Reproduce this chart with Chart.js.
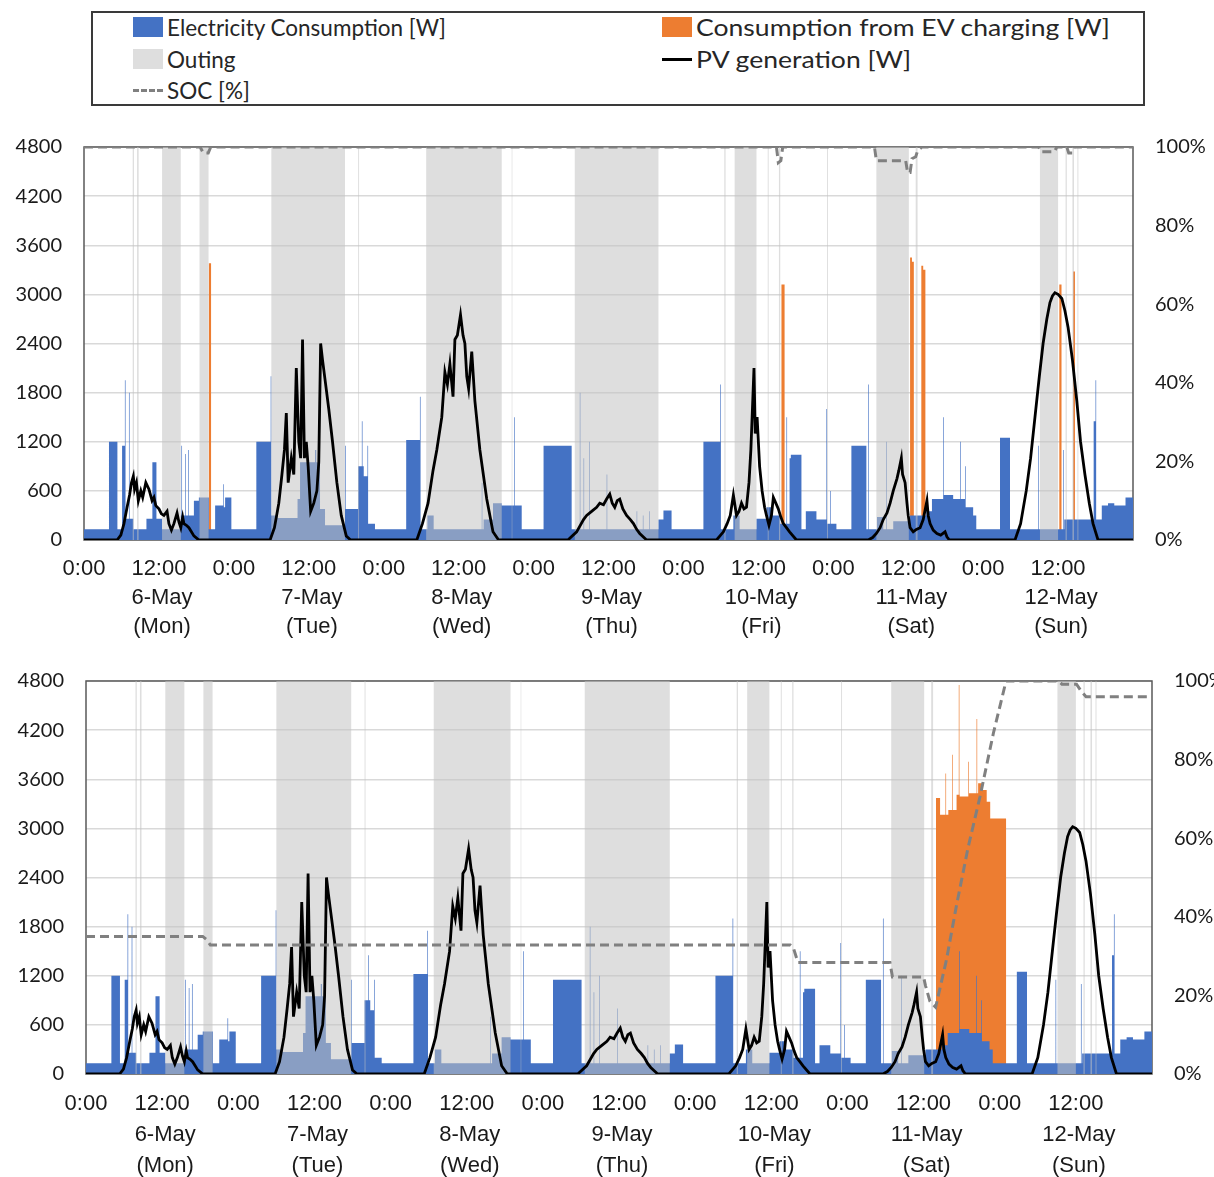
<!DOCTYPE html>
<html>
<head>
<meta charset="utf-8">
<script src="https://cdn.jsdelivr.net/npm/chart.js@4.4.0/dist/chart.umd.min.js"></script>
<style>
  html, body { margin: 0; padding: 0; background: #fff; overflow: hidden; width: 1214px; height: 1177px; }
  #legend { position: absolute; left: 91px; top: 11px; width: 1050px; height: 91px; border: 2px solid #3a3a3a;
            font-family: Lato, 'Open Sans', sans-serif; font-size: 22.5px; color: #262626; }
  .item { position: absolute; display: flex; align-items: center; white-space: nowrap; height: 28px; }
  .wide { transform: scaleX(1.18); transform-origin: left center; }
  .sw { width: 30px; height: 20px; margin-right: 4px; }
  .ln { width: 30px; height: 0; margin-right: 4px; }
  #top { position: absolute; left: 0; top: 130px; }
  #bot { position: absolute; left: 0; top: 664px; }
</style>
</head>
<body>
<div id="legend">
  <div class="item" style="left:40px;top:0px"><span class="sw" style="background:#4472c4"></span>Electricity Consumption [W]</div>
  <div class="item" style="left:569px;top:0px"><span class="sw" style="background:#ed7d31"></span><span class="wide">Consumption from EV charging [W]</span></div>
  <div class="item" style="left:40px;top:32px"><span class="sw" style="background:#dedede"></span>Outing</div>
  <div class="item" style="left:569px;top:32px"><span class="ln" style="border-top:3px solid #000"></span><span class="wide">PV generation [W]</span></div>
  <div class="item" style="left:40px;top:63px"><span class="ln" style="border-top:3px dashed #808080"></span>SOC [%]</div>
</div>
<canvas id="top" width="1214" height="515"></canvas>
<canvas id="bot" width="1250" height="513"></canvas>
<script>
// electricity consumption, step change points per day: [hour of day, W]
const consMon = [[0,130],[4.0,1200],[5.35,130],[6.1,1150],[6.55,1950],[6.65,260],[7.2,1800],[7.3,260],[7.9,130],[10.0,260],[10.95,950],[11.6,260],[12.5,130],[15.5,300],[15.6,1150],[15.7,300],[16.2,1050],[16.3,300],[16.7,1100],[16.8,300],[17.6,480],[18.4,520],[20.0,130],[21.0,420],[22.3,680],[22.4,400],[22.6,520],[23.6,130]];
const consTue = [[0,130],[3.6,1200],[5.9,2000],[6.0,300],[7.0,270],[10.2,500],[10.6,950],[13.0,1100],[13.2,950],[13.8,380],[14.6,180],[17.8,1150],[17.9,380],[19.9,900],[20.5,1450],[20.6,900],[20.8,780],[21.4,1150],[21.5,200],[22.6,130]];
const consWed = [[0,130],[3.6,1220],[5.8,1750],[5.9,130],[7.0,300],[8.0,130],[15.7,700],[15.8,130],[16.0,250],[17.5,450],[18.9,420],[20.9,1500],[21.0,420],[22.1,130]];
const consThu = [[0,130],[1.6,1150],[6.1,130],[7.4,1800],[7.5,130],[8.0,1000],[8.1,130],[8.9,1200],[9.0,130],[11.7,800],[11.8,130],[16.5,350],[16.6,130],[17.5,300],[17.6,130],[18.5,350],[18.6,130],[20.0,250],[20.8,360],[22.1,130]];
const consFri = [[0,130],[3.2,1200],[5.9,1900],[6.0,130],[8.0,300],[9.0,130],[11.7,260],[13.3,400],[14.1,300],[15.5,200],[16.5,1500],[16.6,200],[17.0,1000],[17.2,1040],[18.9,130],[19.6,350],[21.3,250],[22.9,1600],[23.0,200],[23.5,600],[23.6,200]];
const consSat = [[0,200],[0.5,130],[2.9,1150],[5.3,130],[5.6,1900],[5.7,130],[7.0,280],[8.0,130],[8.5,1200],[8.6,130],[9.6,230],[12.3,300],[14.9,350],[15.8,500],[17.6,1500],[17.7,550],[19.2,500],[20.3,1200],[20.4,500],[21.1,900],[21.2,400],[22.4,300],[22.9,130]];
const consSun = [[0,130],[2.7,1250],[4.3,130],[8.8,1150],[8.9,130],[12.8,1100],[12.9,130],[13.0,250],[17.7,1450],[18.0,1950],[18.1,250],[19.0,420],[20.0,450],[21.0,420],[22.8,520]];

// PV generation per day: [hour of day, W]
const pvMon = [[5.3,0],[5.9,60],[6.4,200],[6.9,400],[7.3,550],[7.6,700],[7.9,780],[8.1,620],[8.4,700],[8.7,480],[9.1,600],[9.4,520],[9.9,700],[10.4,620],[10.9,480],[11.2,520],[11.5,420],[12.0,380],[12.4,320],[12.8,300],[13.3,350],[13.6,200],[14.0,120],[14.4,200],[14.9,330],[15.2,220],[15.5,150],[15.8,280],[16.0,200],[16.4,180],[16.8,150],[17.2,100],[17.6,50],[18.4,0]];
const pvTue = [[5.8,0],[6.5,150],[7.2,450],[7.7,800],[8.1,1100],[8.4,1550],[8.7,700],[9.2,1000],[9.6,800],[10.0,2100],[10.4,1200],[10.7,1000],[11.0,2450],[11.3,1000],[11.6,1200],[11.9,900],[12.3,350],[12.8,450],[13.3,600],[13.6,950],[13.9,2400],[14.2,2200],[14.7,1900],[15.2,1600],[15.8,1200],[16.5,700],[17.2,300],[18.0,50],[18.7,0]];
const pvWed = [[5.3,0],[6.2,200],[7.1,450],[7.9,850],[8.5,1100],[9.3,1500],[9.8,2050],[10.2,1900],[10.6,2150],[11.1,1750],[11.4,2450],[11.8,2500],[12.3,2750],[12.7,2500],[13.0,2400],[13.3,2000],[13.6,1850],[14.1,2300],[14.6,1700],[15.4,1100],[16.5,500],[17.5,100],[18.4,0]];
const pvThu = [[5.5,0],[6.9,100],[8.0,250],[8.5,300],[9.3,350],[10.1,400],[10.6,450],[11.2,430],[11.7,500],[12.2,560],[12.6,450],[13.0,400],[13.4,480],[13.8,500],[14.3,380],[14.9,300],[15.5,250],[16.0,200],[16.5,130],[17.0,80],[18.1,0]];
const pvFri = [[5.3,0],[6.4,100],[7.0,200],[7.5,300],[8.0,550],[8.5,300],[8.9,350],[9.3,450],[9.7,380],[10.1,400],[10.5,700],[10.8,1100],[11.0,1500],[11.3,2100],[11.5,1300],[11.8,1500],[12.2,900],[12.6,600],[13.0,400],[13.3,300],[13.7,180],[14.1,300],[14.4,520],[14.8,450],[15.2,380],[15.6,280],[16.0,200],[16.5,150],[17.0,100],[18.1,0]];
const pvSat = [[5.6,0],[6.3,30],[6.9,80],[7.5,150],[8.0,250],[8.6,330],[9.1,450],[9.6,600],[10.2,750],[10.5,850],[10.9,1000],[11.1,800],[11.5,700],[11.8,450],[12.0,300],[12.3,150],[12.8,100],[13.3,130],[13.9,150],[14.4,250],[15.0,480],[15.2,300],[15.5,200],[16.0,120],[16.6,80],[17.2,60],[17.9,100],[18.2,40],[18.6,0]];
const pvSun = [[5.1,0],[6.0,200],[6.9,600],[7.6,1000],[8.3,1500],[9.0,2000],[9.6,2400],[10.2,2700],[10.7,2900],[11.1,2980],[11.5,3020],[12.0,3000],[12.6,2950],[13.1,2800],[13.6,2600],[14.3,2200],[15.0,1700],[15.6,1200],[16.3,800],[17.0,450],[17.6,200],[18.4,0]];

// outing periods [start hour, end hour] counted from 6-May 0:00
const outing = [[7.8,8.0],[8.5,8.75],[12.5,15.5],[18.5,19.95],[30.0,41.8],[43.9,44.05],[54.8,66.9],[68.5,68.6],[78.6,92.0],[102.55,102.75],[104.2,107.7],[109.5,109.65],[111.3,111.5],[119.0,119.15],[126.9,132.1],[133.2,133.5],[153.1,156.0],[157.2,157.4],[158.3,158.55],[159.1,159.25]];

// EV charging, step change points [hour, W]
const evTop = [[0,0],[20.0,3380],[20.35,0],[111.7,3120],[112.2,0],[132.3,3450],[132.6,3400],[132.9,0],[134.1,3350],[134.4,3300],[134.75,0],[156.2,3120],[156.55,0],[158.4,3280],[158.7,0]];
const evBottom = [[0,0],[133.96,3370],[134.6,3165],[135.45,3670],[135.55,3165],[135.9,3225],[136.5,3900],[136.6,3225],[137.2,3410],[137.55,4750],[137.65,3410],[137.7,3390],[139.05,3815],[139.15,3430],[140.35,4335],[140.45,3430],[140.6,3550],[141.2,3470],[141.95,3325],[142.5,3120],[145.0,0]];

// battery state of charge [hour, %]
const socTop = [[0,100],[18.6,100],[19.1,98.5],[19.9,98.5],[20.3,100],[110.9,100],[111.2,96],[111.6,96.5],[111.9,100],[126.6,100],[126.9,96.5],[131.6,96.5],[131.9,93.5],[132.3,93.5],[132.6,97],[133.2,97.5],[133.5,99],[134.2,100],[152.9,100],[153.2,98.8],[155.4,98.8],[155.8,100],[157.4,100],[157.7,98.5],[158.3,98.5],[158.6,100],[168,100]];
const socBottom = [[0,35],[18.4,35],[19.0,34.2],[19.6,32.8],[111.0,32.8],[111.5,32],[112.2,28.4],[126.7,28.4],[127.1,24.7],[132.0,24.7],[132.3,22.5],[133.0,18.5],[133.9,17],[135.6,29],[137.2,43],[139.0,57.5],[140.9,70.6],[143.0,86.7],[145.0,100],[153.3,100],[153.8,99.2],[156.1,99.2],[156.8,97.5],[157.6,96],[168,96]];

const dayNames = ['6-May', '7-May', '8-May', '9-May', '10-May', '11-May', '12-May'];
const weekDays = ['(Mon)', '(Tue)', '(Wed)', '(Thu)', '(Fri)', '(Sat)', '(Sun)'];
const leftTicks = [0, 600, 1200, 1800, 2400, 3000, 3600, 4200, 4800];

function fromDays(days) {
  const pts = [];
  days.forEach(function(d, i) {
    d.forEach(function(p) { pts.push({x: i * 24 + p[0], y: p[1]}); });
  });
  return pts;
}
function fromPairs(list) {
  return list.map(function(p) { return {x: p[0], y: p[1]}; });
}

const consPts = fromDays([consMon, consTue, consWed, consThu, consFri, consSat, consSun]);
consPts.push({x: 168, y: consPts[consPts.length - 1].y});
const pvPts = [{x: 0, y: 0}].concat(fromDays([pvMon, pvTue, pvWed, pvThu, pvFri, pvSat, pvSun]), [{x: 168, y: 0}]);
const outPts = [{x: 0, y: 0}];
outing.forEach(function(o) { outPts.push({x: o[0], y: 4800}, {x: o[1], y: 0}); });
outPts.push({x: 168, y: 0});

const frame = {
  id: 'frame',
  beforeDatasetsDraw: function(chart) {
    const a = chart.chartArea, ctx = chart.ctx;
    ctx.save();
    ctx.strokeStyle = '#595959';
    ctx.lineWidth = 1.5;
    ctx.strokeRect(a.left, a.top, a.right - a.left, a.bottom - a.top);
    ctx.restore();
  }
};

// 'before' gives a flat run at the current value, then a jump at the next point
const STEP = 'before';

function makeChart(id, evList, socList, g) {
  const canvas = document.getElementById(id);
  const evPts = fromPairs(evList);
  evPts.push({x: 168, y: 0});
  return new Chart(canvas, {
    type: 'line',
    data: {
      datasets: [
        {label: 'SOC [%]', data: fromPairs(socList), yAxisID: 'y1', order: 0,
         borderColor: '#808080', borderWidth: 3, borderDash: [9, 5], pointRadius: 0, fill: false},
        {label: 'PV generation [W]', data: pvPts, order: 1,
         borderColor: '#000', borderWidth: 2.8, pointRadius: 0, fill: false},
        {label: 'Outing', data: outPts, order: 2, stepped: STEP,
         borderColor: 'rgba(0,0,0,0)', borderWidth: 0, backgroundColor: 'rgba(195,195,195,0.55)', pointRadius: 0, fill: 'origin'},
        {label: 'Electricity Consumption [W]', data: consPts, order: 3, stepped: STEP,
         borderColor: 'rgba(0,0,0,0)', borderWidth: 0, backgroundColor: '#4472c4', pointRadius: 0, fill: 'origin'},
        {label: 'Consumption from EV charging [W]', data: evPts, order: 4, stepped: STEP,
         borderColor: 'rgba(0,0,0,0)', borderWidth: 0, backgroundColor: '#ed7d31', pointRadius: 0, fill: 'origin'}
      ]
    },
    options: {
      responsive: false,
      animation: false,
      events: [],
      layout: {padding: {top: 17, left: 0, right: 0, bottom: 0}},
      plugins: {legend: {display: false}, tooltip: {enabled: false}},
      scales: {
        x: {
          type: 'linear', min: 0, max: 168,
          afterBuildTicks: function(s) { s.ticks = []; for (let h = 0; h < 168; h += 12) s.ticks.push({value: h}); },
          afterFit: function(s) { s.height = g.xHeight; },
          grid: {display: false},
          border: {display: false},
          ticks: {
            maxRotation: 0, autoSkip: false, padding: g.xPad, color: '#1a1a1a',
            font: {family: "'Liberation Sans Narrow', 'Liberation Sans', sans-serif", size: 22, lineHeight: g.lh},
            callback: function(v) {
              if (v % 24 === 0) return '0:00';
              const d = Math.floor(v / 24);
              return ['12:00', '\u00a0' + dayNames[d], '\u00a0' + weekDays[d]];
            }
          }
        },
        y: {
          position: 'left', min: 0, max: 4800,
          afterBuildTicks: function(s) { s.ticks = leftTicks.map(function(v) { return {value: v}; }); },
          afterFit: function(s) { s.width = g.left; s.paddingTop = 0; s.paddingBottom = 0; },
          grid: {color: '#d9d9d9', lineWidth: 1.5, drawTicks: false},
          border: {display: false},
          ticks: {padding: 22, color: '#1a1a1a', font: {family: 'Lato, sans-serif', size: 20},
                  callback: function(v) { return String(v); }}
        },
        y1: {
          position: 'right', min: 0, max: 100,
          afterBuildTicks: function(s) { s.ticks = [0, 20, 40, 60, 80, 100].map(function(v) { return {value: v}; }); },
          afterFit: function(s) { s.width = g.right; s.paddingTop = 0; s.paddingBottom = 0; },
          grid: {display: false, drawTicks: false},
          border: {display: false},
          ticks: {padding: 22, color: '#1a1a1a', font: {family: 'Lato, sans-serif', size: 20},
                  callback: function(v) { return v + '%'; }}
        }
      }
    },
    plugins: [frame]
  });
}

makeChart('top', evTop, socTop, {left: 84, right: 81, xHeight: 105, xPad: 7, lh: 1.3});
makeChart('bot', evBottom, socBottom, {left: 86, right: 98, xHeight: 103, xPad: 6, lh: 1.41});
</script>
</body>
</html>
